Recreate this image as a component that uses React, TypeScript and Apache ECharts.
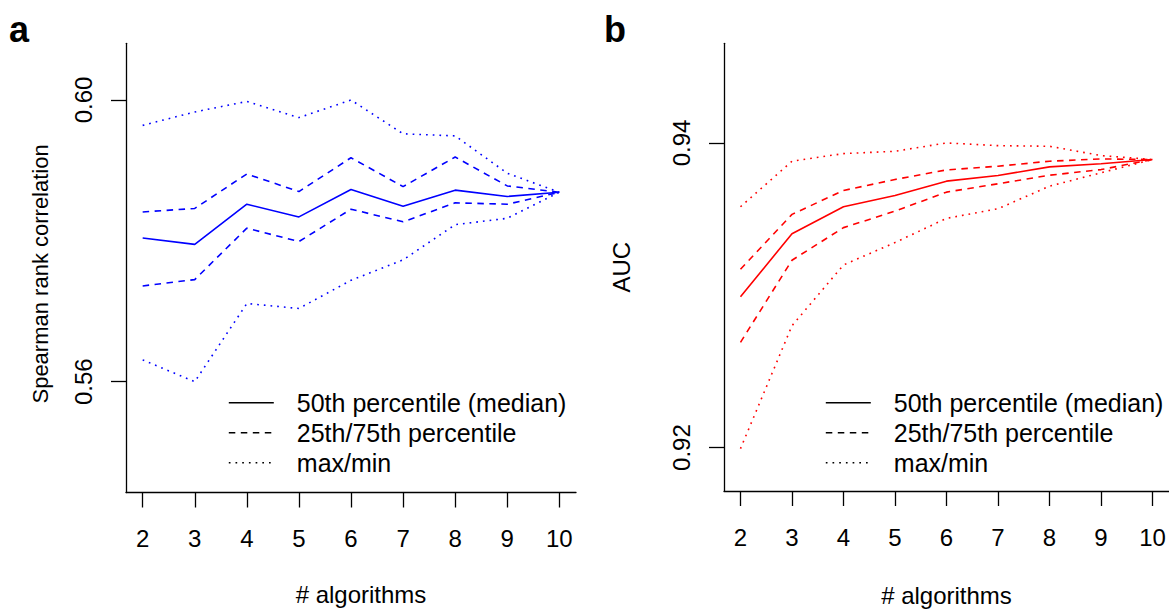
import React, { useEffect, useRef } from "react";
import * as echarts from "echarts";

const ALGOS = [2, 3, 4, 5, 6, 7, 8, 9, 10];
const X_TICKS = [2, 3, 4, 5, 6, 7, 8, 9, 10];

// Panel a: Spearman rank correlation
const SP_MEDIAN = [0.5804, 0.5795, 0.5852, 0.5834, 0.5873, 0.5849, 0.5872, 0.5863, 0.5869];
const SP_P75 = [0.5841, 0.5846, 0.5895, 0.587, 0.5918, 0.5877, 0.5919, 0.5878, 0.5869];
const SP_P25 = [0.5736, 0.5745, 0.5818, 0.5799, 0.5845, 0.5827, 0.5854, 0.5852, 0.5869];
const SP_MAX = [0.5964, 0.5983, 0.5998, 0.5975, 0.6, 0.5952, 0.5949, 0.5896, 0.5869];
const SP_MIN = [0.5631, 0.56, 0.5711, 0.5704, 0.5744, 0.5773, 0.5823, 0.5832, 0.5869];
const SP_TICKS = [0.56, 0.6];

// Panel b: AUC
const AUC_MEDIAN = [0.9299, 0.93404, 0.93581, 0.93655, 0.93749, 0.93786, 0.93843, 0.93863, 0.93891];
const AUC_P75 = [0.93171, 0.93531, 0.93688, 0.9376, 0.93823, 0.93847, 0.9388, 0.93895, 0.93891];
const AUC_P25 = [0.92691, 0.9323, 0.93444, 0.93552, 0.93677, 0.93732, 0.93788, 0.93825, 0.93891];
const AUC_MAX = [0.93581, 0.9388, 0.9393, 0.93945, 0.94, 0.93982, 0.93978, 0.93917, 0.93891];
const AUC_MIN = [0.91993, 0.928, 0.93199, 0.93346, 0.93505, 0.93568, 0.93716, 0.93804, 0.93891];
const AUC_TICKS = [0.92, 0.94];

const NAMES = ["50th percentile (median)", "25th/75th percentile", "max/min"];

const FONT = "'Liberation Sans', Arial, Helvetica, sans-serif";
const DASH = [6.5, 5.5];
const DOT = [1.7, 5];
const LW = 1.6;

export default function App() {
  const ref = useRef<HTMLDivElement>(null);

  useEffect(() => {
    if (!ref.current) return;
    const chart = echarts.init(ref.current, undefined, { renderer: "svg" });

    const pts = (arr: number[]) => ALGOS.map((x, i) => [x, arr[i]]);
    const mk = (name: string, arr: number[], idx: number, color: string, type: any) => ({
      type: "line",
      name,
      xAxisIndex: idx,
      yAxisIndex: idx,
      data: pts(arr),
      symbol: "none",
      showSymbol: false,
      lineStyle: { color, width: LW, type },
      itemStyle: { color },
      silent: true,
    });

    const xAxisBase = (gridIndex: number, gap: number, pad: number[]) => ({
      type: "value",
      gridIndex,
      min: 1.68,
      max: 10.32,
      name: "# algorithms",
      nameLocation: "middle",
      nameGap: gap,
      nameTextStyle: { fontFamily: FONT, fontSize: 24, color: "#000", padding: pad },
      axisLine: { show: true, onZero: false, lineStyle: { color: "#000", width: 1.3 } },
      axisTick: { show: true, length: 15, customValues: X_TICKS, lineStyle: { color: "#000", width: 1.3 } },
      axisLabel: {
        customValues: X_TICKS,
        margin: 34,
        fontFamily: FONT,
        fontSize: 24,
        color: "#000",
      },
      splitLine: { show: false },
    });

    const yAxisBase = (
      gridIndex: number,
      min: number,
      max: number,
      ticks: number[],
      name: string,
      gap: number,
      fontSize: number,
      pad: number[]
    ) => ({
      type: "value",
      gridIndex,
      min,
      max,
      name,
      nameLocation: "middle",
      nameRotate: 90,
      nameGap: gap,
      nameTextStyle: { fontFamily: FONT, fontSize, color: "#000", padding: pad },
      axisLine: { show: true, onZero: false, lineStyle: { color: "#000", width: 1.3 } },
      axisTick: { show: true, length: 15, customValues: ticks, lineStyle: { color: "#000", width: 1.3 } },
      axisLabel: {
        customValues: ticks,
        rotate: 90,
        margin: 31,
        fontFamily: FONT,
        fontSize: 24,
        color: "#000",
        formatter: (v: number) => v.toFixed(2),
      },
      splitLine: { show: false },
    });

    const hidden = { color: "rgba(0,0,0,0)", borderWidth: 0, opacity: 0 };
    const legendBase = (left: number) => ({
      orient: "vertical",
      left,
      top: 390.2,
      padding: 0,
      itemWidth: 45,
      itemHeight: 20,
      itemGap: 5,
      selectedMode: false,
      textStyle: { fontFamily: FONT, fontSize: 25, color: "#000", lineHeight: 20, padding: [0, 0, 0, 18] },
      data: [
        { name: NAMES[0], lineStyle: { color: "#000", width: LW, type: "solid", opacity: 1 }, itemStyle: hidden },
        { name: NAMES[1], lineStyle: { color: "#000", width: LW, type: DASH, opacity: 1 }, itemStyle: hidden },
        { name: NAMES[2], lineStyle: { color: "#000", width: LW, type: DOT, opacity: 1 }, itemStyle: hidden },
      ],
    });

    chart.setOption({
      animation: false,
      backgroundColor: "#fff",
      title: [
        { text: "a", left: 9, top: 11, padding: 0, textStyle: { fontFamily: FONT, fontSize: 36, fontWeight: "bold", color: "#000" } },
        { text: "b", left: 604, top: 11, padding: 0, textStyle: { fontFamily: FONT, fontSize: 36, fontWeight: "bold", color: "#000" } },
      ],
      grid: [
        { left: 126, top: 43.3, width: 450, height: 449.2, containLabel: false },
        { left: 724, top: 43.3, width: 448.2, height: 449.2, containLabel: false },
      ],
      legend: [legendBase(228), legendBase(825)],
      xAxis: [xAxisBase(0, 89.5, [0, 0, 0, 20]), xAxisBase(1, 92, [0, 0, 0, 0])],
      yAxis: [
        yAxisBase(0, 0.54427, 0.60805, SP_TICKS, "Spearman rank correlation", 75, 22, [0, 12, 0, 0]),
        yAxisBase(1, 0.91715, 0.94654, AUC_TICKS, "AUC", 91, 24, [0, 0, 0, 0]),
      ],
      series: [
        mk(NAMES[0], SP_MEDIAN, 0, "#0000ff", "solid"),
        mk(NAMES[1], SP_P75, 0, "#0000ff", DASH),
        mk(NAMES[1], SP_P25, 0, "#0000ff", DASH),
        mk(NAMES[2], SP_MAX, 0, "#0000ff", DOT),
        mk(NAMES[2], SP_MIN, 0, "#0000ff", DOT),
        mk(NAMES[0], AUC_MEDIAN, 1, "#ff0000", "solid"),
        mk(NAMES[1], AUC_P75, 1, "#ff0000", DASH),
        mk(NAMES[1], AUC_P25, 1, "#ff0000", DASH),
        mk(NAMES[2], AUC_MAX, 1, "#ff0000", DOT),
        mk(NAMES[2], AUC_MIN, 1, "#ff0000", DOT),
      ],
    });

    return () => chart.dispose();
  }, []);

  return (
    <div
      ref={ref}
      style={{ position: "absolute", left: 0, top: 0, width: 1169, height: 612, background: "#fff" }}
    />
  );
}
